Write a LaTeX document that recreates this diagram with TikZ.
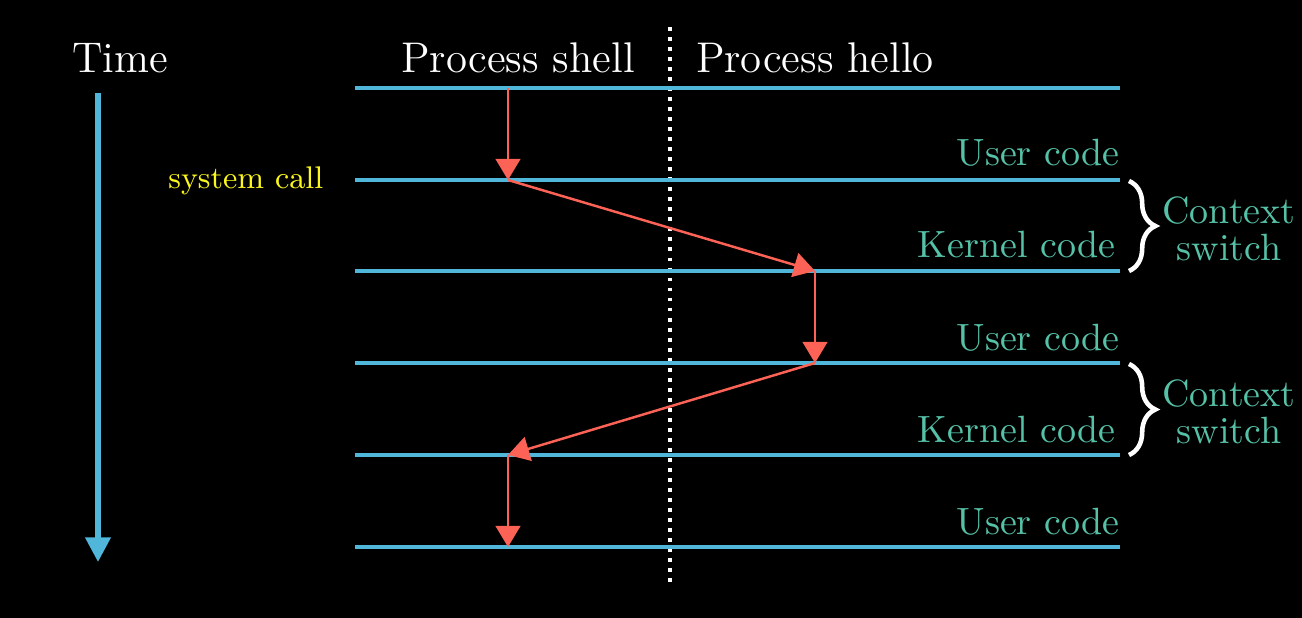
\documentclass[tikz,border=0pt]{standalone}
\usepackage{fontspec}
\usepackage{tikz}
\usetikzlibrary{arrows.meta,decorations.pathreplacing,positioning}
\definecolor{laneblue}{RGB}{80,182,218}
\definecolor{flowred}{RGB}{252,98,85}
\definecolor{codeteal}{RGB}{85,193,167}
\definecolor{callyellow}{RGB}{250,246,30}
\tikzset{>=stealth}
\tikzset{
  lane/.style={laneblue,line width=1pt},
  flow/.style={flowred,line width=0.7pt,-{Triangle[length=6pt,width=7pt]}},
  headlbl/.style={white,font=\fontsize{12.2}{14}\selectfont,anchor=base,inner sep=0pt},
  codelbl/.style={codeteal,font=\fontsize{10.8}{12}\selectfont,anchor=base east,inner sep=0pt},
  ctxlbl/.style={codeteal,font=\fontsize{10.8}{10.5}\selectfont,align=center,inner sep=0pt},
  ctxbrace/.style={white,line width=1.3pt,decorate,decoration={brace,amplitude=7.5pt}}
}

\begin{document}
\begin{tikzpicture}[x=0.01cm,y=-0.01cm]
    \useasboundingbox[fill=black] (0,0) rectangle (1302,618);
    % time axis
    \node[headlbl] (time) at (120,72) {Time};
    \coordinate (t0) at (98,93);
    \coordinate (t1) at (98,562);
    \draw[laneblue,line width=1.5pt,-{Triangle[length=7pt,width=7pt]}] (t0) -- (t1);
    % headers and divider
    \node[headlbl] (shell) at (518,72) {Process shell};
    \node[headlbl] (hello) at (815,72) {Process hello};
    \coordinate (d0) at (670,27);
    \coordinate (d1) at (670,587);
    \draw[white,line width=1.1pt,dash pattern=on 1.1pt off 1.75pt] (d0) -- (d1);
    % lanes
    \foreach \y [count=\i] in {88,180,271,363,455,547}{
        \coordinate (l\i) at (355,\y);
        \coordinate (r\i) at (1120,\y);
        \draw[lane] (l\i) -- (r\i);
    }
    \node[codelbl] (user1) at ([shift={(0,-14)}]r2) {User code};
    \node[codelbl] (kern1) at ([shift={(-4,-13)}]r3) {Kernel code};
    \node[codelbl] (user2) at ([shift={(0,-13)}]r4) {User code};
    \node[codelbl] (kern2) at ([shift={(-4,-13)}]r5) {Kernel code};
    \node[codelbl] (user3) at ([shift={(0,-13)}]r6) {User code};
    \node[callyellow,font=\fontsize{8.9}{11}\selectfont,anchor=east,inner sep=0pt] (syscall) at (324,181) {system call};
    % control flow
    \coordinate (s1) at (508,88);
    \coordinate (s2) at (508,180);
    \coordinate (h3) at (815,271);
    \coordinate (h4) at (815,363);
    \coordinate (s5) at (508,455);
    \coordinate (s6) at (508,547);
    \draw[flow] (s1) -- (s2);
    \draw[flow] (s2) -- (h3);
    \draw[flow] (h3) -- (h4);
    \draw[flow] (h4) -- (s5);
    \draw[flow] (s5) -- (s6);
    % context switches
    \coordinate (b1) at (1129,181);
    \coordinate (b2) at (1129,271);
    \coordinate (b3) at (1129,364);
    \coordinate (b4) at (1129,455);
    \draw[ctxbrace] (b1) -- (b2);
    \draw[ctxbrace] (b3) -- (b4);
    \node[ctxlbl] (ctx1) at (1229,229) {Context\\switch};
    \node[ctxlbl] (ctx2) at (1229,412) {Context\\switch};
\end{tikzpicture}
\end{document}
